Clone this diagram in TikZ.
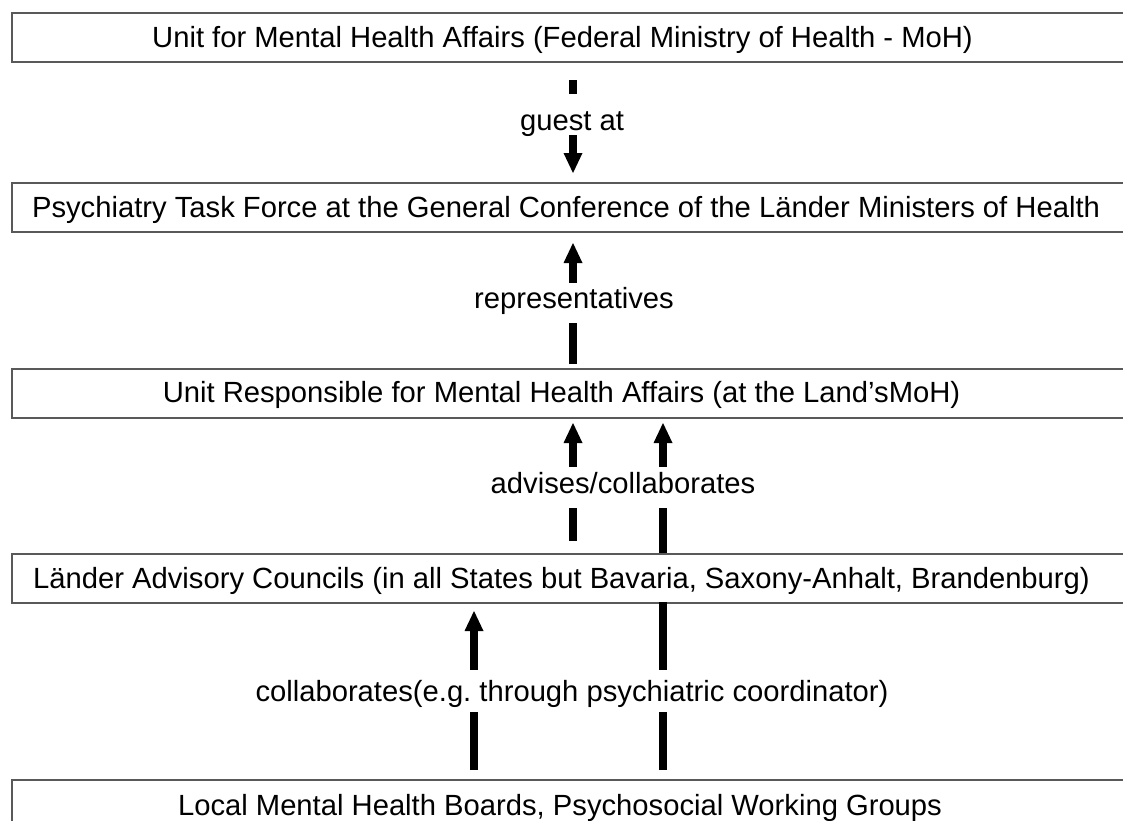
\documentclass[tikz,border=0pt]{standalone}
\usepackage{fontspec}
\setmainfont{Liberation Sans}
\usetikzlibrary{arrows.meta}
\frenchspacing

\begin{document}
\begin{tikzpicture}[x=0.5pt,y=-0.5pt,
  box/.style={draw=black!65, line width=1pt, minimum width=556.5pt,
    minimum height=24.5pt, inner sep=0pt, anchor=north west},
  boxtext/.style={font=\fontsize{14.6pt}{17pt}\selectfont, inner sep=0pt, anchor=base},
  lab/.style={font=\fontsize{14.6pt}{17pt}\selectfont, fill=white,
    inner ysep=0pt, inner xsep=2pt, anchor=base},
  bar/.style={line width=3.75pt, -{Triangle[width=9.5pt,length=10pt,line width=0pt]}},
  plainbar/.style={line width=3.75pt}]

  \useasboundingbox (0,0) rectangle (1123,820);

  % level boxes
  \node[box] (b1) at (11,12) {};
  \node[box] (b2) at (11,182) {};
  \node[box] (b3) at (11,367.5) {};
  \node[box] (b4) at (11,553) {};
  \node[box, minimum height=30pt] (b5) at (11,779) {};

  % box captions
  \node[boxtext] (t1) at (562.5,47) {Unit for Mental Health Affairs (Federal Ministry of Health - MoH)};
  \node[boxtext] (t2) at (566,217) {Psychiatry Task Force at the General Conference of the Länder Ministers of Health};
  \node[boxtext] (t3) at (561.5,402) {Unit Responsible for Mental Health Affairs (at the Land’sMoH)};
  \node[boxtext] (t4) at (561.5,588) {Länder Advisory Councils (in all States but Bavaria, Saxony-Anhalt, Brandenburg)};
  \node[boxtext] (t5) at (560,815) {Local Mental Health Boards, Psychosocial Working Groups};

  % connector end points
  \coordinate (a1s) at (573,80);
  \coordinate (a1e) at (573,173);
  \coordinate (a2s) at (573,364);
  \coordinate (a2e) at (573,243);
  \coordinate (a3ls) at (573,541);
  \coordinate (a3le) at (573,423);
  \coordinate (a3rs) at (663,553);
  \coordinate (a3re) at (663,423);
  \coordinate (a4ls) at (474,770);
  \coordinate (a4le) at (474,611);
  \coordinate (a4rs) at (663,770);
  \coordinate (a4re) at (663,602);

  % connectors
  \draw[bar] (a1s) -- (a1e);
  \draw[bar] (a2s) -- (a2e);
  \draw[bar] (a3ls) -- (a3le);
  \draw[bar] (a3rs) -- (a3re);
  \draw[bar] (a4ls) -- (a4le);
  \draw[plainbar] (a4rs) -- (a4re);

  % connector labels, set over the bars
  \node[lab, text height=18pt, text depth=2.5pt] (l1) at (572,130) {guest at};
  \node[lab, text height=12.5pt, text depth=7.5pt] (l2) at (574,308) {representatives};
  \node[lab, text height=13pt, text depth=7.5pt] (l3) at (623,493) {advises/collaborates};
  \node[lab, text height=15.5pt, text depth=5.5pt] (l4) at (572,701) {collaborates(e.g. through psychiatric coordinator)};
\end{tikzpicture}
\end{document}
